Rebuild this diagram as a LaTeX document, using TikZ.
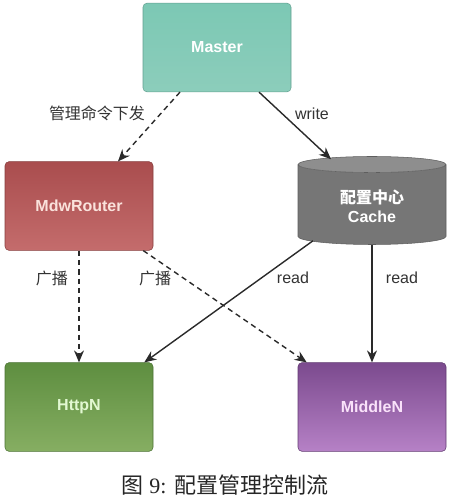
\documentclass[tikz,border=0pt]{standalone}
\usepackage{fontspec}
\setmainfont{Liberation Sans}
\newfontfamily\cjk{Noto Sans CJK SC}
\newfontfamily\capfont{Liberation Serif}
\usetikzlibrary{shapes.geometric,arrows.meta,calc}
\definecolor{mastertop}{HTML}{7CC8B4}
\definecolor{masterbot}{HTML}{8CCDBB}
\definecolor{routertop}{HTML}{A94D4E}
\definecolor{routerbot}{HTML}{C46C6C}
\definecolor{httptop}{HTML}{5E8E40}
\definecolor{httpbot}{HTML}{86AE62}
\definecolor{midtop}{HTML}{7B4A8E}
\definecolor{midbot}{HTML}{B681C6}
\definecolor{cachebody}{HTML}{767676}
\definecolor{cacheend}{HTML}{8E8E8E}
\definecolor{linecol}{HTML}{2A2A2A}
\definecolor{labelcol}{HTML}{333333}
\begin{document}
\begin{tikzpicture}[x=0.75pt,y=-0.75pt,
  box/.style={rectangle,rounded corners=3pt,minimum width=111pt,minimum height=66.5pt,
    font=\bfseries\fontsize{12}{14}\selectfont,draw=#1!80!black,line width=0.4pt},
  conn/.style={draw=linecol,line width=1.05pt,-{Stealth[length=9pt,width=7.5pt]}},
  dconn/.style={conn,dash pattern=on 4pt off 3pt},
  lab/.style={font=\fontsize{12}{14}\selectfont,text=labelcol,inner sep=1pt}]
\useasboundingbox (0,0) rectangle (449,497);
% nodes
\node[box=mastertop,top color=mastertop,bottom color=masterbot,text=white] (master) at (217,47.5) {Master};
\node[box=routertop,top color=routertop,bottom color=routerbot,text={rgb,255:red,250;green,226;blue,220}] (router) at (79,206) {MdwRouter};
\node[box=httptop,top color=httptop,bottom color=httpbot,text={rgb,255:red,226;green,248;blue,210}] (http) at (79,407) {HttpN};
\node[box=midtop,top color=midtop,bottom color=midbot,text={rgb,255:red,250;green,226;blue,250}] (mid) at (372,407) {MiddleN};
\node[cylinder,shape border rotate=90,aspect=0.22,minimum width=111pt,minimum height=66pt,
  cylinder uses custom fill,cylinder body fill=cachebody,cylinder end fill=cacheend,
  draw=cachebody!80!black,line width=0.4pt,text=white,align=center,
  font=\bfseries\fontsize{12}{14}\selectfont] (cache) at (372,206)
  {{\cjk 配置中心}\\Cache};
% connector end points
\coordinate (ma) at ($(master.south)+(-37,0)$);
\coordinate (ra) at ($(router.north)+(39,0)$);
\coordinate (mb) at ($(master.south)+(42,0)$);
\coordinate (cb) at ($(cache.north)+(-41,3)$);
\coordinate (rc) at (router.south);
\coordinate (hc) at (http.north);
\coordinate (rd) at ($(router.south east)+(-10,0)$);
\coordinate (md) at ($(mid.north west)+(9,0)$);
\coordinate (ce) at ($(cache.south)+(-59,-4)$);
\coordinate (he) at ($(http.north east)+(-9,0)$);
\coordinate (cf) at (cache.south);
\coordinate (mf) at (mid.north);
% connectors
\draw[dconn] (ma) -- (ra);
\draw[conn] (mb) -- (cb);
\draw[dconn] (rc) -- (hc);
\draw[dconn] (rd) -- (md);
\draw[conn] (ce) -- (he);
\draw[conn] (cf) -- (mf);
% labels
\node[lab] (l1) at (97,113) {\cjk 管理命令下发};
\node[lab] (l2) at (312,114) {write};
\node[lab] (l3) at (52,278) {\cjk 广播};
\node[lab] (l4) at (155,278) {\cjk 广播};
\node[lab] (l5) at (293,278) {read};
\node[lab] (l6) at (402,278) {read};
% caption
\node[font=\fontsize{16.5}{20}\selectfont,text=black!85] (cap) at (225,485) {{\cjk 图} {\capfont 9:} {\cjk 配置管理控制流}};
\end{tikzpicture}
\end{document}
